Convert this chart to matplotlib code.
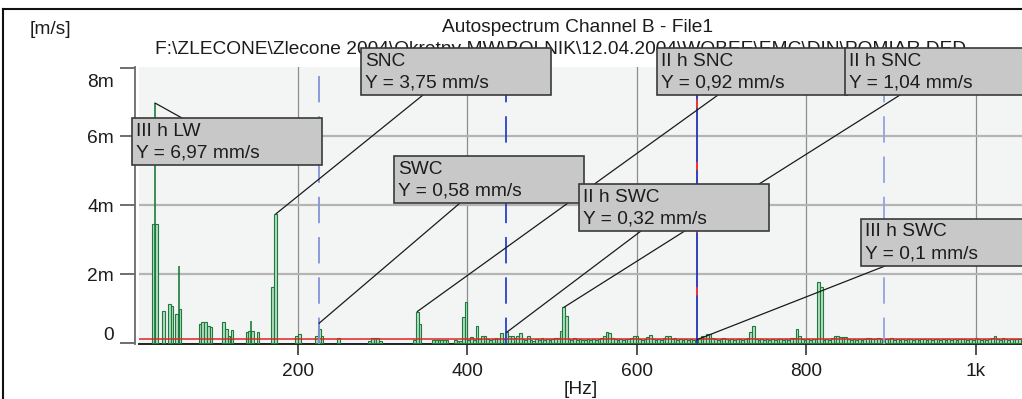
import matplotlib
matplotlib.use("Agg")
import matplotlib.pyplot as plt
from matplotlib.patches import Rectangle, ConnectionPatch
from matplotlib.lines import Line2D
from matplotlib.transforms import Affine2D, ScaledTranslation

plt.rcParams['font.family'] = ['Liberation Sans', 'DejaVu Sans']
plt.rcParams['lines.scale_dashes'] = False

W, H, DPI = 1022, 399, 100
FS = 13.8
TXT = '#1c1c1c'

# ---------------- data ----------------
# isolated spectral lines below ~335 Hz (Hz, mm/s)
left_freqs = [29.7, 33.2, 41.5, 48.2, 51.3, 56.8, 60.8,
              84.4, 87.5, 91.0, 94.2, 97.3,
              112.3, 115.8, 118.6, 122.1,
              139.8, 143.0, 146.5, 152.8,
              170.1, 173.7, 198.4, 201.5,
              222.0, 225.2, 228.4, 247.6,
              284.6, 287.8, 291.0, 294.2, 297.4]
left_vals = [3.46, 3.46, 0.95, 1.13, 1.08, 0.84, 0.99,
             0.55, 0.61, 0.61, 0.51, 0.46,
             0.61, 0.41, 0.22, 0.38,
             0.32, 0.37, 0.37, 0.32,
             1.62, 3.75, 0.21, 0.26,
             0.22, 0.41, 0.22, 0.16,
             0.07, 0.16, 0.16, 0.16, 0.07]

# continuous spectrum from 337.5 Hz, 3.2 Hz bins (mm/s)
floor_start_hz = 337.5
floor_step_hz = 3.2
floor_vals = [
    0.10, 0.92, 0.56, 0, 0, 0, 0, 0.10, 0.10, 0.10,
    0.10, 0.10, 0.10, 0, 0, 0.10, 0.07, 0.07, 0.75, 1.19,
    0.10, 0.17, 0.10, 0.51, 0.12, 0.22, 0.22, 0.12, 0.10, 0.13,
    0.15, 0.12, 0.30, 0.12, 0.32, 0.22, 0.22, 0.15, 0.20, 0.30,
    0.12, 0.10, 0.20, 0.10, 0.08, 0.12, 0.10, 0.15, 0.10, 0.12,
    0.10, 0.12, 0.14, 0.15, 0.37, 1.04, 0.80, 0.12, 0.10, 0.15,
    0.10, 0.12, 0.10, 0.10, 0.12, 0.10, 0.13, 0.10, 0.12, 0.15,
    0.20, 0.32, 0.30, 0.15, 0.12, 0.10, 0.12, 0.10, 0.12, 0.13,
    0.15, 0.22, 0.22, 0.12, 0.10, 0.12, 0.17, 0.25, 0.12, 0.10,
    0.12, 0.10, 0.15, 0.22, 0.22, 0.12, 0.15, 0.10, 0.12, 0.10,
    0.12, 0.10, 0.12, 0.10, 0.10, 0.15, 0.20, 0.22, 0.27, 0.27,
    0.15, 0.12, 0.10, 0.12, 0.15, 0.12, 0.10, 0.12, 0.10, 0.13,
    0.12, 0.10, 0.12, 0.15, 0.32, 0.51, 0.12, 0.10, 0.12, 0.10,
    0.12, 0.10, 0.12, 0.10, 0.12, 0.13, 0.10, 0.12, 0.10, 0.15,
    0.15, 0.41, 0.20, 0.12, 0.10, 0.12, 0.10, 0.12, 0.12, 1.77,
    1.62, 0.10, 0.12, 0.10, 0.15, 0.22, 0.22, 0.17, 0.17, 0.17,
    0.12, 0.10, 0.12, 0.10, 0.12, 0.10, 0.12, 0.15, 0.15, 0.12,
    0.12, 0.15, 0.12, 0.10, 0.12, 0.12, 0.15, 0.10, 0.12, 0.10,
    0.12, 0.10, 0.13, 0.12, 0.10, 0.12, 0.10, 0.12, 0.13, 0.10,
    0.12, 0.10, 0.12, 0.13, 0.10, 0.12, 0.10, 0.12, 0.10, 0.12,
    0.10, 0.12, 0.13, 0.12, 0.10, 0.12, 0.10, 0.15, 0.12, 0.10,
    0.12, 0.10, 0.12, 0.15, 0.22, 0.12, 0.10, 0.15, 0.12, 0.10,
    0.12, 0.13, 0.12, 0.12,
]

# thin single lines
spike_freqs = [31.3, 59.2, 144.9, 224.8]
spike_vals = [6.97, 2.24, 0.65, 0.58]

# harmonic cursors (Hz)
cursor_freqs = [224.8, 446.0, 670.5, 891.4]
threshold = 0.12  # mm/s, red line

marker_names = ['III h LW', 'SNC', 'SWC', 'II h SWC', 'II h SNC', 'II h SNC', 'III h SWC']
marker_values = ['6,97', '3,75', '0,58', '0,32', '0,92', '1,04', '0,1']
marker_freqs = [31.3, 173.7, 224.8, 446.3, 340.7, 513.5, 670.3]

x_ticks = [200, 400, 600, 800, 1000]
x_tick_labels = ['200', '400', '600', '800', '1k']
y_ticks = [0, 2, 4, 6, 8]
y_tick_labels = ['0', '2m', '4m', '6m', '8m']

title = 'Autospectrum Channel B - File1'
subtitle = 'F:\\ZLECONE\\Zlecone 2004\\Okrętny MW\\BOLNIK\\12.04.2004\\WOBEE\\EMC\\DIN\\POMIAR DED'

# ---------------- figure ----------------
fig = plt.figure(figsize=(W / DPI, H / DPI), dpi=DPI, facecolor='white')
pxT = Affine2D().scale(1.0 / W, -1.0 / H).translate(0, 1) + fig.transFigure

ax_l, ax_r, ax_t, ax_b = 139, 1022, 67, 344
ax = fig.add_axes([ax_l / W, (H - ax_b) / H, (ax_r - ax_l) / W, (ax_b - ax_t) / H])
ax.set_facecolor('#f3f5f4')
ax.set_xlim(12.4, 1054.3)
ax.set_ylim(-0.02, 8.015)

# grid
for xv in x_ticks:
    ax.axvline(xv, color='#8c8c8c', lw=0.9, zorder=1)
for yv in y_ticks[1:-1]:
    ax.axhline(yv, color='#b4b4b4', lw=1.6, zorder=1)

# bars
green_edge = '#1b7c3d'
green_fill = '#b8dcc3'
lf = [f for f, v in zip(left_freqs, left_vals) if v > 0]
lv = [v for v in left_vals if v > 0]
ax.bar(lf, lv, width=floor_step_hz, color=green_fill, edgecolor=green_edge,
       linewidth=0.8, zorder=3)
ff = [floor_start_hz + i * floor_step_hz for i, v in enumerate(floor_vals) if v > 0]
fv = [v for v in floor_vals if v > 0]
ax.bar(ff, fv, width=floor_step_hz, color=green_fill, edgecolor=green_edge,
       linewidth=0.8, zorder=3)
ax.vlines(spike_freqs, 0, spike_vals, color=green_edge, lw=1.2, zorder=3)

# red threshold line
ax.axhline(threshold, color='#e02424', lw=1.1, zorder=4)

# cursors
cur_colors = ['#8494d8', '#2a42c6', '#2233b8', '#93a3de']
cur_styles = [(0, (19, 10)), (0, (19, 10)), '-', (0, (19, 10))]
for f, c, s in zip(cursor_freqs, cur_colors, cur_styles):
    ax.axvline(f, color=c, ls=s, lw=1.3, zorder=4)
ax.axvline(cursor_freqs[2], color='#ff3030', ls=(10, (6, 39)), lw=1.3, zorder=4)

# axes styling
for s in ['top', 'right']:
    ax.spines[s].set_visible(False)
ax.spines['left'].set_position(('outward', 3))
ax.spines['left'].set_color('#6a6a6a')
ax.spines['left'].set_linewidth(1.3)
ax.spines['bottom'].set_color('#222222')
ax.spines['bottom'].set_linewidth(1.4)
ax.set_xticks(x_ticks)
ax.set_xticklabels(x_tick_labels)
ax.set_yticks(y_ticks)
ax.set_yticklabels(y_tick_labels)
ax.tick_params(axis='x', length=8, width=1.2, color='#333333', pad=5.5,
               labelsize=FS, labelcolor=TXT, direction='out')
ax.tick_params(axis='y', length=11, width=1.2, color='#555555', pad=4,
               labelsize=FS, labelcolor=TXT, direction='out')
ylabels = ax.get_yticklabels()
ylabels[0].set_transform(ylabels[0].get_transform() +
                         ScaledTranslation(0, 10 / DPI, fig.dpi_scale_trans))
ylabels[-1].set_transform(ylabels[-1].get_transform() +
                          ScaledTranslation(0, -13 / DPI, fig.dpi_scale_trans))

# texts
fig.text(30, 30, '[m/s]', transform=pxT, ha='left', va='center', fontsize=FS, color=TXT)
fig.text((ax_l + ax_r) / 2 - 3, 28, title, transform=pxT, ha='center', va='center',
         fontsize=FS, color=TXT)
fig.text(155, 50, subtitle, transform=pxT, ha='left', va='center', fontsize=FS,
         color=TXT, zorder=3)
fig.text((ax_l + ax_r) / 2, 390, '[Hz]', transform=pxT, ha='center', va='center',
         fontsize=FS, color=TXT)

# frame
fig.add_artist(Line2D([3, W], [9, 9], transform=pxT, color='#111111', lw=1.5, zorder=2))
fig.add_artist(Line2D([3, 3], [9, H], transform=pxT, color='#111111', lw=1.5, zorder=2))

# annotation boxes (layout in pixels)
box_pos = [(132, 118), (361, 48), (394, 156), (579, 184), (657, 48), (845, 48), (861, 219)]
anchor_x = [182, 423, 460, 641, 718, 900, 885]
anchor_top = [True, False, False, False, False, False, False]
BW, BH = 190, 47

for name, val, f, (bx, by), axx, top in zip(marker_names, marker_values, marker_freqs,
                                             box_pos, anchor_x, anchor_top):
    yv = float(val.replace(',', '.'))
    ay = by if top else by + BH
    con = ConnectionPatch(xyA=(axx, ay), coordsA=pxT, xyB=(f, yv), coordsB=ax.transData,
                          color='#1a1a1a', lw=0.9, zorder=5)
    fig.add_artist(con)

for i, (name, val, (bx, by)) in enumerate(zip(marker_names, marker_values, box_pos)):
    z = 6 + i * 0.1
    fig.add_artist(Rectangle((bx, by), BW, BH, transform=pxT, facecolor='#c8c8c8',
                             edgecolor='#3a3a3a', lw=1.2, zorder=z))
    fig.text(bx + 4, by + 13, name, transform=pxT, ha='left', va='center',
             fontsize=FS, color=TXT, zorder=z + 0.05)
    fig.text(bx + 4, by + 35, 'Y = %s mm/s' % val, transform=pxT, ha='left',
             va='center', fontsize=FS, color=TXT, zorder=z + 0.05)

fig.savefig('out.png', dpi=DPI, facecolor='white')
